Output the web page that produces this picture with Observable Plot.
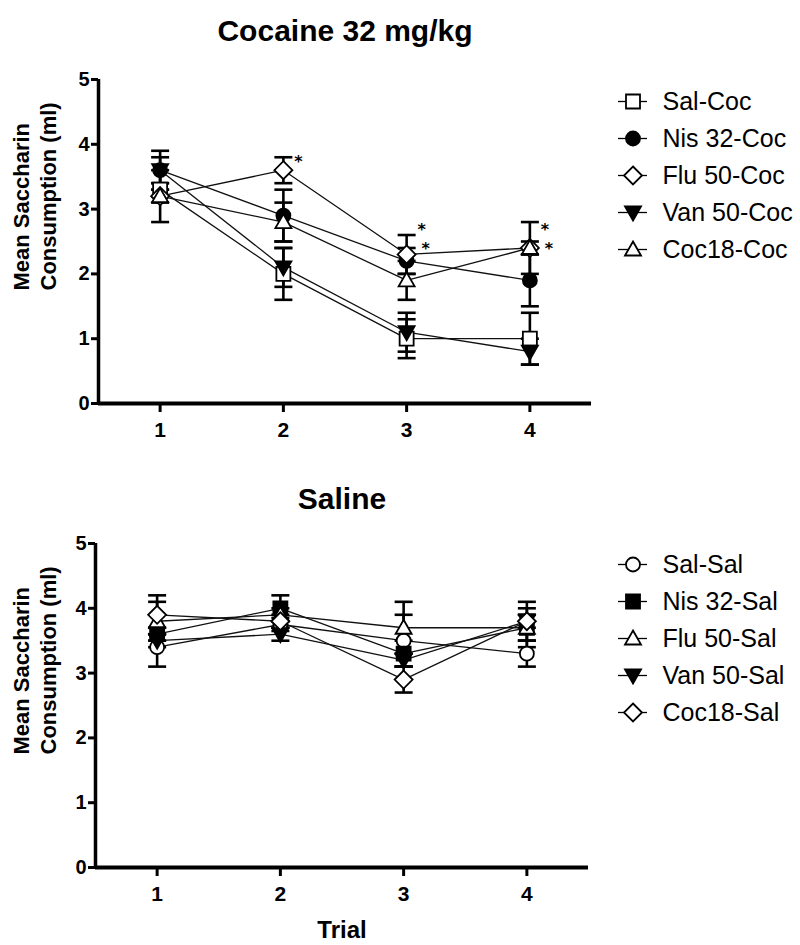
<!DOCTYPE html>
<html><head><meta charset="utf-8">
<script src="https://cdn.jsdelivr.net/npm/d3@7"></script>
<script src="https://cdn.jsdelivr.net/npm/@observablehq/plot@0.6"></script>
<style>
body{margin:0;background:#fff;}
#wrap{position:relative;width:800px;height:945px;background:#fff;overflow:hidden;}
#wrap > div{position:absolute;}
</style></head><body><div id="wrap"></div>
<script>
// ---------- data ----------
const trialTicks = [1, 2, 3, 4];
const yTicks = [0, 1, 2, 3, 4, 5];

const cocaineTitle = "Cocaine 32 mg/kg";
const salineTitle = "Saline";
const yLabel = "Mean Saccharin\nConsumption (ml)";
const xLabel = "Trial";

const cocaineSeries = ["Sal-Coc", "Nis 32-Coc", "Flu 50-Coc", "Van 50-Coc", "Coc18-Coc"];
const salCocMean   = [3.3, 2.0, 1.0, 1.0];
const salCocErr    = [0.1, 0.4, 0.3, 0.4];
const nisCocMean   = [3.6, 2.9, 2.2, 1.9];
const nisCocErr    = [0.3, 0.4, 0.2, 0.4];
const fluCocMean   = [3.2, 3.6, 2.3, 2.4];
const fluCocErr    = [0.4, 0.2, 0.3, 0.1];
const vanCocMean   = [3.6, 2.1, 1.1, 0.8];
const vanCocErr    = [0.2, 0.3, 0.3, 0.2];
const cocCocMean   = [3.2, 2.8, 1.9, 2.4];
const cocCocErr    = [0.1, 0.3, 0.3, 0.4];

const salineSeries = ["Sal-Sal", "Nis 32-Sal", "Flu 50-Sal", "Van 50-Sal", "Coc18-Sal"];
const salSalMean   = [3.4, 3.75, 3.5, 3.3];
const salSalErr    = [0.3, 0.1, 0.4, 0.2];
const nisSalMean   = [3.6, 4.0, 3.3, 3.7];
const nisSalErr    = [0.1, 0.2, 0.2, 0.2];
const fluSalMean   = [3.8, 3.9, 3.7, 3.7];
const fluSalErr    = [0.3, 0.1, 0.4, 0.3];
const vanSalMean   = [3.5, 3.6, 3.2, 3.8];
const vanSalErr    = [0.1, 0.1, 0.1, 0.1];
const cocSalMean   = [3.9, 3.8, 2.9, 3.8];
const cocSalErr    = [0.3, 0.1, 0.2, 0.3];

// significance asterisks (trial, level)
const upperStarTrials = [2, 3, 4];
const upperStarLevels = [3.8, 2.75, 2.75];
const lowerStarTrials = [3, 4];
const lowerStarLevels = [2.46, 2.46];

// ---------- build tables ----------
function rowsOf(series, means, errs) {
  const out = [];
  series.forEach((s, k) => {
    trialTicks.forEach((t, i) => {
      out.push({series: s, trial: t, mean: means[k][i], lo: means[k][i] - errs[k][i], hi: means[k][i] + errs[k][i]});
    });
  });
  return out;
}
const cocRows = rowsOf(cocaineSeries,
  [salCocMean, nisCocMean, fluCocMean, vanCocMean, cocCocMean],
  [salCocErr, nisCocErr, fluCocErr, vanCocErr, cocCocErr]);
const salRows = rowsOf(salineSeries,
  [salSalMean, nisSalMean, fluSalMean, vanSalMean, cocSalMean],
  [salSalErr, nisSalErr, fluSalErr, vanSalErr, cocSalErr]);
const upperStars = upperStarTrials.map((t, i) => ({trial: t, level: upperStarLevels[i]}));
const lowerStars = lowerStarTrials.map((t, i) => ({trial: t, level: lowerStarLevels[i]}));

// ---------- symbols ----------
const rad = s => Math.sqrt(s / Math.PI);
const SYM = {
  square:  {draw(c, s) { const r = rad(s); c.moveTo(-r, -r); c.lineTo(r, -r); c.lineTo(r, r); c.lineTo(-r, r); c.closePath(); }},
  circle:  {draw(c, s) { const r = rad(s); c.moveTo(r, 0); c.arc(0, 0, r, 0, 2 * Math.PI); c.closePath(); }},
  diamond: {draw(c, s) { const r = rad(s); c.moveTo(0, -r); c.lineTo(r, 0); c.lineTo(0, r); c.lineTo(-r, 0); c.closePath(); }},
  triUp:   {draw(c, s) { const r = rad(s); c.moveTo(0, -r); c.lineTo(r, r * 0.75); c.lineTo(-r, r * 0.75); c.closePath(); }},
  triDown: {draw(c, s) { const r = rad(s); c.moveTo(0, r); c.lineTo(r, -r * 0.75); c.lineTo(-r, -r * 0.75); c.closePath(); }},
  cap:     {draw(c, s) { const r = rad(s); c.moveTo(-r, 0); c.lineTo(r, 0); }}
};
const STYLE = {
  "Sal-Coc":    {sym: "square",  fill: "white", r: 7},
  "Nis 32-Coc": {sym: "circle",  fill: "black", r: 7},
  "Flu 50-Coc": {sym: "diamond", fill: "white", r: 9},
  "Van 50-Coc": {sym: "triDown", fill: "black", r: 8},
  "Coc18-Coc":  {sym: "triUp",   fill: "white", r: 8},
  "Sal-Sal":    {sym: "circle",  fill: "white", r: 7},
  "Nis 32-Sal": {sym: "square",  fill: "black", r: 7},
  "Flu 50-Sal": {sym: "triUp",   fill: "white", r: 8},
  "Van 50-Sal": {sym: "triDown", fill: "black", r: 8},
  "Coc18-Sal":  {sym: "diamond", fill: "white", r: 9}
};
const FONT = "'Liberation Sans', Arial, Helvetica, sans-serif";
const STAR_FONT = "'DejaVu Sans', sans-serif";

function seriesDots(rows, series) {
  return series.map(s => {
    const st = STYLE[s];
    return Plot.dot(rows.filter(d => d.series === s), {
      x: "trial", y: "mean", symbol: SYM[st.sym], r: st.r,
      fill: st.fill, stroke: "black", strokeWidth: 1.8
    });
  });
}

function panel(rows, series, title, opts) {
  const marks = [
    Plot.ruleX([0.5], {y1: 0, y2: 5, stroke: "black", strokeWidth: 3.5}),
    Plot.ruleY([0], {x1: 0.5, x2: 4.5, stroke: "black", strokeWidth: 4}),
    Plot.axisY({ticks: yTicks, tickSize: 7, tickPadding: 2, fontSize: 20, fontWeight: "bold", strokeWidth: 3, label: null, tickFormat: d => String(d)}),
    Plot.axisX({ticks: trialTicks, tickSize: 9, tickPadding: 10, fontSize: 21, fontWeight: "bold", strokeWidth: 3, label: null, tickFormat: d => String(d)}),
    Plot.line(rows, {x: "trial", y: "mean", z: "series", stroke: "#111", strokeWidth: 1.3}),
    Plot.ruleX(rows, {x: "trial", y1: "lo", y2: "hi", stroke: "black", strokeWidth: 2.6}),
    Plot.dot(rows, {x: "trial", y: "hi", symbol: SYM.cap, r: 9, stroke: "black", strokeWidth: 2.6, fill: "none"}),
    Plot.dot(rows, {x: "trial", y: "lo", symbol: SYM.cap, r: 9, stroke: "black", strokeWidth: 2.6, fill: "none"}),
    ...seriesDots(rows, series),
    Plot.text([title], {frameAnchor: "top", dy: opts.titleDy, fontSize: 30, fontWeight: "bold", fill: "black", lineAnchor: "middle"}),
    Plot.text([yLabel], {frameAnchor: "bottom-left", dx: opts.yLabDx, dy: opts.yLabDy, rotate: -90, textAnchor: "start", lineAnchor: "middle", lineHeight: 1.23, fontSize: 22, fontWeight: "bold", fill: "black"})
  ];
  if (opts.upperStars) {
    marks.push(Plot.text(opts.upperStars, {x: "trial", y: "level", text: () => "*", dx: 15, dy: 4.5, fontSize: 16, fontWeight: "bold", fontFamily: STAR_FONT, fill: "black", lineAnchor: "middle"}));
    marks.push(Plot.text(opts.lowerStars, {x: "trial", y: "level", text: () => "*", dx: 19, dy: 4.5, fontSize: 16, fontWeight: "bold", fontFamily: STAR_FONT, fill: "black", lineAnchor: "middle"}));
  }
  if (opts.xLabel) {
    marks.push(Plot.text([opts.xLabel], {frameAnchor: "bottom", dy: opts.xLabDy, fontSize: 24, fontWeight: "bold", fill: "black", lineAnchor: "middle"}));
  }
  return Plot.plot({
    width: 800, height: opts.height,
    marginTop: opts.mt, marginBottom: opts.mb, marginLeft: opts.ml, marginRight: opts.mr,
    x: {domain: [0.5, 4.5]},
    y: {domain: [0, 5]},
    style: {fontFamily: FONT, background: "transparent", color: "black", overflow: "visible"},
    marks
  });
}

function legend(series, bottomRow) {
  const marks = [
    Plot.ruleY(series, {y: d => d, x1: 0, x2: 1, stroke: "black", strokeWidth: 1.3}),
    ...series.map(s => {
      const st = STYLE[s];
      return Plot.dot([s], {x: 0.5, y: d => d, symbol: SYM[st.sym], r: st.r, fill: st.fill, stroke: "black", strokeWidth: 1.8});
    }),
    Plot.text(series, {x: 1, y: d => d, text: d => d, dx: 15, textAnchor: "start", lineAnchor: "middle", fontSize: 25, fill: "black"})
  ];
  return Plot.plot({
    width: 200, height: 230, margin: 0,
    x: {domain: [0, 1], range: [18, 47], axis: null},
    y: {type: "point", domain: series, range: [40, bottomRow], padding: 0, axis: null},
    style: {fontFamily: FONT, background: "transparent", color: "black", overflow: "visible"},
    marks
  });
}

const wrap = document.getElementById("wrap");
function place(node, left, top) {
  const d = document.createElement("div");
  d.style.left = left + "px"; d.style.top = top + "px";
  d.appendChild(node); wrap.appendChild(d);
}

place(panel(cocRows, cocaineSeries, cocaineTitle, {
  height: 470, mt: 79, mb: 470 - 403, ml: 98, mr: 800 - 591,
  titleDy: -48.6, yLabDx: -64.5, yLabDy: -113, upperStars, lowerStars
}), 0, 0);

place(panel(salRows, salineSeries, salineTitle, {
  height: 475, mt: 73, mb: 475 - 397, ml: 95, mr: 800 - 588,
  titleDy: -44.6, yLabDx: -61.5, yLabDy: -113, xLabel, xLabDy: 63.3
}), 0, 470);

place(legend(cocaineSeries, 189), 600, 60);
place(legend(salineSeries, 188), 600, 524);
</script></body></html>
